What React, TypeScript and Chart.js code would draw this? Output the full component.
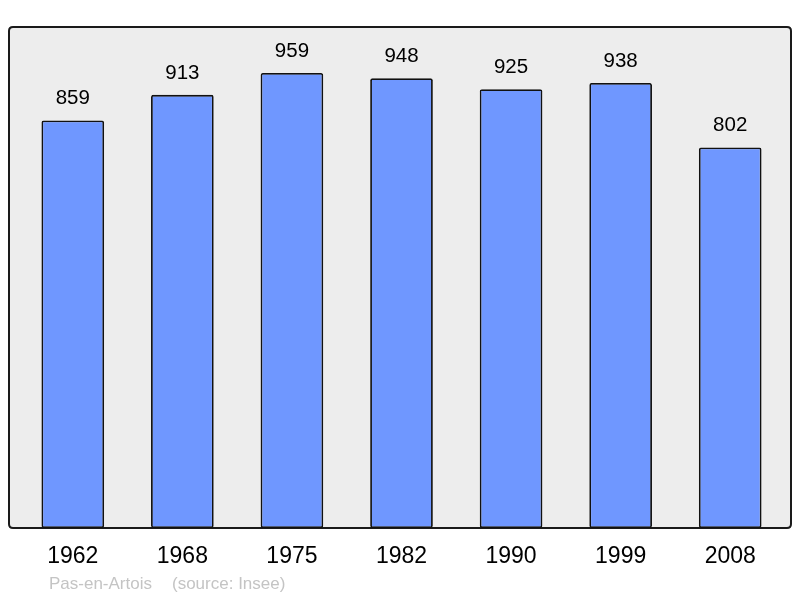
import React, { useEffect, useRef } from "react";
import { Chart, registerables } from "chart.js";

Chart.register(...registerables);

const years = ["1962", "1968", "1975", "1982", "1990", "1999", "2008"];
const population = [859, 913, 959, 948, 925, 938, 802];
const footerPlace = "Pas-en-Artois";
const footerSource = "(source: Insee)";

const FONT = "'Liberation Sans', Arial, sans-serif";

const decor = {
  id: "decor",
  beforeDraw(chart: any) {
    const { ctx } = chart;
    ctx.save();
    const x0 = 9, y0 = 27, x1 = 791, y1 = 528, r = 4;
    ctx.beginPath();
    ctx.moveTo(x0 + r, y0);
    ctx.lineTo(x1 - r, y0);
    ctx.quadraticCurveTo(x1, y0, x1, y0 + r);
    ctx.lineTo(x1, y1 - r);
    ctx.quadraticCurveTo(x1, y1, x1 - r, y1);
    ctx.lineTo(x0 + r, y1);
    ctx.quadraticCurveTo(x0, y1, x0, y1 - r);
    ctx.lineTo(x0, y0 + r);
    ctx.quadraticCurveTo(x0, y0, x0 + r, y0);
    ctx.closePath();
    ctx.fillStyle = "#ededed";
    ctx.fill();
    ctx.lineWidth = 2;
    ctx.strokeStyle = "#1a1a1a";
    ctx.stroke();
    ctx.restore();
  },
  afterDraw(chart: any) {
    const { ctx } = chart;
    const xs = chart.scales.x;
    const ys = chart.scales.y;
    ctx.save();
    ctx.textAlign = "center";
    ctx.textBaseline = "middle";
    ctx.fillStyle = "#000";
    ctx.font = `20.5px ${FONT}`;
    population.forEach((v, i) => {
      const x = xs.getPixelForValue(i);
      const y = ys.getPixelForValue(v);
      ctx.fillText(String(v), x, y - 22);
    });
    ctx.font = `23px ${FONT}`;
    years.forEach((yr, i) => {
      const x = xs.getPixelForValue(i);
      ctx.fillText(yr, x, 557);
    });
    ctx.textAlign = "left";
    ctx.font = `17px ${FONT}`;
    ctx.fillStyle = "#c4c4c4";
    ctx.fillText(footerPlace, 49, 584);
    ctx.fillText(footerSource, 172, 584);
    ctx.restore();
  },
};

export default function App() {
  const ref = useRef<HTMLCanvasElement>(null);
  useEffect(() => {
    if (!ref.current) return;
    const chart = new Chart(ref.current, {
      type: "bar",
      data: {
        labels: years,
        datasets: [
          {
            data: population,
            backgroundColor: "#6f97ff",
            borderColor: "#111",
            borderWidth: 1.8,
            borderRadius: 2,
            borderSkipped: false,
            barPercentage: 0.572,
            categoryPercentage: 1,
          },
        ],
      },
      options: {
        responsive: false,
        animation: false,
        layout: { padding: { left: 18, right: 15, top: 27, bottom: 70 } },
        plugins: { legend: { display: false }, tooltip: { enabled: false } },
        scales: {
          x: { display: false },
          y: { display: false, min: 0, max: 1056 },
        },
      },
      plugins: [decor],
    });
    return () => chart.destroy();
  }, []);
  return (
    <div style={{ position: "fixed", left: 0, top: 0, width: 800, height: 598, background: "#fff" }}>
      <canvas ref={ref} width={800} height={598} style={{ width: 800, height: 598 }} />
    </div>
  );
}
